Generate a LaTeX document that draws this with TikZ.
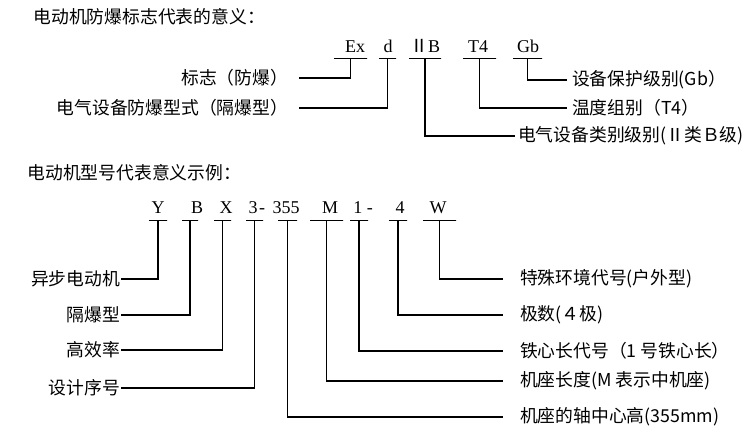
\documentclass[tikz,border=0pt]{standalone}
\usepackage{fontspec}
\setmainfont{Liberation Serif}
\newfontfamily\cjk{Noto Sans CJK SC}
\newcommand\codefont{\fontsize{18}{20}\selectfont}
\newcommand\lblfont{\cjk\fontsize{17.8}{20}\selectfont}

\begin{document}
\begin{tikzpicture}[x=1pt,y=-1pt,line width=1.1pt,
    code/.style={font=\codefont,inner sep=0pt,anchor=base},
    bar/.style={draw,inner sep=0pt,outer sep=0pt,minimum height=0pt,minimum width=#1},
    lbl/.style={font=\lblfont,inner sep=0pt,outer xsep=#1},
    head/.style={font=\lblfont,inner sep=0pt,anchor=west}]
    \useasboundingbox (0,0) rectangle (754,440);
    \path (33,17) node(title1)[head] {电动机防爆标志代表的意义：};
    \path (355,52) node(cEx)[code] {Ex};
    \path (388,52) node(cd)[code] {d};
    \path (425,52) node(cII)[code] {{\cjk Ⅱ}B};
    \path (478,52) node(cT)[code] {T4};
    \path (528,52) node(cGb)[code] {Gb};
    \path (350.5,58.5) node(uEx)[bar=33] {};
    \path (387.5,58.5) node(ud)[bar=17] {};
    \path (425,58.5) node(uII)[bar=32] {};
    \path (479.5,58.5) node(uT)[bar=33] {};
    \path (527.5,58.5) node(uGb)[bar=29] {};
    \path (299,78) node(lEx)[lbl=11pt,anchor=east] {标志（防爆）};
    \path (299,108) node(ld)[lbl=11pt,anchor=east] {电气设备防爆型式（隔爆型）};
    \path (567,80) node(lGb)[lbl=5pt,anchor=west] {设备保护级别(Gb）};
    \path (567,108) node(lT)[lbl=5pt,anchor=west] {温度组别（T4）};
    \path (515,136) node(lII)[lbl=3pt,anchor=west] {电气设备类别级别(Ⅱ类Ｂ级)};
    \path (uEx.south) [draw] |- (lEx.east);
    \path (ud.south) [draw] |- (ld.east);
    \path (uGb.south) [draw] |- (lGb.west);
    \path (uT.south) [draw] |- (lT.west);
    \path (uII.south) [draw] |- (lII.west);
    \path (27,173) node(title2)[head] {电动机型号代表意义示例：};
    \path (158,213) node(cY)[code] {Y};
    \path (197,213) node(cB)[code] {B};
    \path (226,213) node(cX)[code] {X};
    \path (253,213) node(c3)[code] {3};
    \path (262,213) node(cdash)[code] {-};
    \path (286,213) node(c355)[code] {355};
    \path (330,213) node(cM)[code] {M};
    \path (363,213) node(c1)[code] {1 -};
    \path (400,213) node(c4)[code] {4};
    \path (438,213) node(cW)[code] {W};
    \path (158,220.5) node(uY)[bar=18] {};
    \path (190,220.5) node(uB)[bar=16] {};
    \path (222.5,220.5) node(uX)[bar=17] {};
    \path (254.5,220.5) node(u3)[bar=17] {};
    \path (287.5,220.5) node(u355)[bar=19] {};
    \path (326.5,220.5) node(uM)[bar=33] {};
    \path (359,220.5) node(u1)[bar=18] {};
    \path (398,220.5) node(u4)[bar=18] {};
    \path (439.5,220.5) node(uW)[bar=33] {};
    \path (121,279) node(lY)[lbl=1pt,anchor=east] {异步电动机};
    \path (121,315) node(lB)[lbl=1pt,anchor=east] {隔爆型};
    \path (121,350) node(lX)[lbl=1pt,anchor=east] {高效率};
    \path (121,388) node(l3)[lbl=1pt,anchor=east] {设计序号};
    \path (503,279) node(lW)[lbl=17pt,anchor=west] {特殊环境代号(户外型)};
    \path (503,315) node(l4)[lbl=17pt,anchor=west] {极数(４极)};
    \path (503,351) node(l1)[lbl=17pt,anchor=west] {铁心长代号（1 号铁心长）};
    \path (503,381) node(lM)[lbl=17pt,anchor=west] {机座长度(M 表示中机座)};
    \path (503,417) node(l355)[lbl=17pt,anchor=west] {机座的轴中心高(355mm)};
    \path (uY.south) [draw] |- (lY.east);
    \path (uB.south) [draw] |- (lB.east);
    \path (uX.south) [draw] |- (lX.east);
    \path (u3.south) [draw] |- (l3.east);
    \path (uW.south) [draw] |- (lW.west);
    \path (u4.south) [draw] |- (l4.west);
    \path (u1.south) [draw] |- (l1.west);
    \path (uM.south) [draw] |- (lM.west);
    \path (u355.south) [draw] |- (l355.west);
\end{tikzpicture}
\end{document}
